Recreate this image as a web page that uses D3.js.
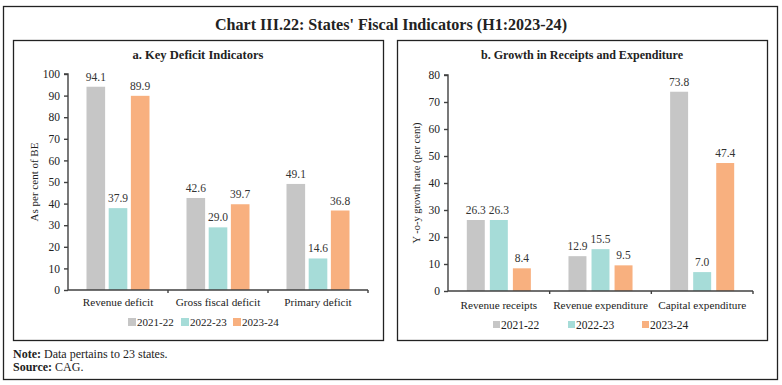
<!DOCTYPE html>
<html><head><meta charset="utf-8">
<script src="https://cdn.jsdelivr.net/npm/d3@7"></script>
<style>body{margin:0;background:#fff}svg{display:block}</style>
</head><body>
<svg id="c" width="782" height="385"></svg>
<script>
const seriesNames = ["2021-22", "2022-23", "2023-24"];
const colors = ["#c6c6c6", "#a6dcd8", "#f8b07f"];

const catsA = ["Revenue deficit", "Gross fiscal deficit", "Primary deficit"];
const valsA = {
  "2021-22": [94.1, 42.6, 49.1],
  "2022-23": [37.9, 29.0, 14.6],
  "2023-24": [89.9, 39.7, 36.8]
};
const ticksA = [0,10,20,30,40,50,60,70,80,90,100];

const catsB = ["Revenue receipts", "Revenue expenditure", "Capital expenditure"];
const valsB = {
  "2021-22": [26.3, 12.9, 73.8],
  "2022-23": [26.3, 15.5, 7.0],
  "2023-24": [8.4, 9.5, 47.4]
};
const ticksB = [0,10,20,30,40,50,60,70,80];

const svg = d3.select("#c");
const serif = "'Liberation Serif', 'DejaVu Serif', serif";
const axisCol = "#404040";

// outer frame
svg.append("rect").attr("x",3.5).attr("y",6.5).attr("width",774).attr("height",373)
  .attr("fill","none").attr("stroke","#222").attr("stroke-width",1.3);
svg.append("text").attr("x",391).attr("y",30).attr("text-anchor","middle")
  .attr("font-family",serif).attr("font-size",17.5).attr("font-weight","bold").attr("fill","#222")
  .attr("textLength",352).attr("lengthAdjust","spacingAndGlyphs")
  .text("Chart III.22: States' Fiscal Indicators (H1:2023-24)");

function panel(o){
  const g = svg.append("g");
  g.append("rect").attr("x",o.px+0.5).attr("y",40.5).attr("width",o.pw).attr("height",300)
    .attr("fill","none").attr("stroke","#222").attr("stroke-width",1.3);
  g.append("text").attr("x",o.px+o.pw/2).attr("y",58.5).attr("text-anchor","middle")
    .attr("font-family",serif).attr("font-size",13.5).attr("font-weight","bold").attr("fill","#222")
    .attr("textLength",o.titleLen).attr("lengthAdjust","spacingAndGlyphs")
    .text(o.title);

  const x0 = d3.scaleBand().domain(o.cats).range([o.x0,o.x1]).paddingInner(0.37).paddingOuter(0.185);
  const x1 = d3.scaleBand().domain(seriesNames).range([0,x0.bandwidth()]).paddingInner(o.inner);
  const y = d3.scaleLinear().domain([0,o.ymax]).range([o.y0,o.y1]);

  // bars
  seriesNames.forEach((s,si)=>{
    o.cats.forEach((c,ci)=>{
      const v = o.vals[s][ci];
      g.append("rect").attr("x",x0(c)+x1(s)).attr("y",y(v)).attr("width",x1.bandwidth())
        .attr("height",y(0)-y(v)).attr("fill",colors[si]);
      g.append("text").attr("x",x0(c)+x1(s)+x1.bandwidth()/2).attr("y",y(v)-6)
        .attr("text-anchor","middle").attr("font-family",serif).attr("font-size",11.5).attr("fill","#333")
        .text(v.toFixed(1));
    });
  });

  // y axis
  const ya = g.append("g").attr("transform",`translate(${o.x0},0)`)
    .call(d3.axisLeft(y).tickValues(o.ticks).tickSize(4).tickPadding(4).tickFormat(d3.format("d")));
  ya.selectAll("path,line").attr("stroke",axisCol).attr("stroke-width",1.4);
  ya.selectAll("path").attr("d",`M-4,${o.y1}H0V${o.y0}`);
  ya.selectAll("text").attr("font-family",serif).attr("font-size",11.5).attr("fill","#222");

  // x axis
  const xa = g.append("g").attr("transform",`translate(0,${o.y0})`);
  xa.append("line").attr("x1",o.x0).attr("x2",o.x1).attr("stroke",axisCol).attr("stroke-width",1.6);
  const bounds = [o.x0].concat(o.cats.map(c=>x0(c)+x0.bandwidth()+x0.step()*0.185));
  bounds.slice(1).forEach(b=>{
    xa.append("line").attr("x1",b).attr("x2",b).attr("y1",0).attr("y2",3).attr("stroke",axisCol).attr("stroke-width",1.4);
  });
  o.cats.forEach(c=>{
    xa.append("text").attr("x",x0(c)+x0.bandwidth()/2).attr("y",o.catY-o.y0).attr("text-anchor","middle")
      .attr("font-family",serif).attr("font-size",o.catFs).attr("fill","#222").text(c);
  });

  // y label
  g.append("text").attr("transform",`translate(${o.ylx},${(o.y0+o.y1)/2}) rotate(-90)`)
    .attr("text-anchor","middle").attr("font-family",serif).attr("font-size",o.ylFs).attr("fill","#222")
    .text(o.ylabel);

  // legend
  seriesNames.forEach((s,i)=>{
    g.append("rect").attr("x",o.legX[i]).attr("y",o.legY-8).attr("width",o.sq).attr("height",o.sq).attr("fill",colors[i]);
    g.append("text").attr("x",o.legX[i]+o.sq+1).attr("y",o.legY).attr("font-family",serif)
      .attr("font-size",o.legFs).attr("fill","#222").text(s);
  });
}

panel({px:13,pw:370,title:"a. Key Deficit Indicators",titleLen:131,cats:catsA,vals:valsA,ticks:ticksA,
  ymax:100,x0:68,x1:368,y0:290,y1:74,inner:0.16,catY:306,catFs:11.2,ylabel:"As per cent of BE",ylx:38,ylFs:11,
  legX:[128,181,233],legY:326,sq:8,legFs:11});
panel({px:397,pw:370,title:"b. Growth in Receipts and Expenditure",titleLen:202,cats:catsB,vals:valsB,ticks:ticksB,
  ymax:80,x0:448,x1:753,y0:291,y1:75,inner:0.22,catY:309,catFs:11.2,ylabel:"Y -o-y growth rate (per cent)",ylx:420,ylFs:10.5,
  legX:[493,568,642],legY:329,sq:7,legFs:11.5});

// notes
const n1 = svg.append("text").attr("x",13).attr("y",358).attr("font-family",serif).attr("font-size",12).attr("fill","#222");
n1.append("tspan").attr("font-weight","bold").text("Note:");
n1.append("tspan").text(" Data pertains to 23 states.");
const n2 = svg.append("text").attr("x",13).attr("y",371).attr("font-family",serif).attr("font-size",12).attr("fill","#222");
n2.append("tspan").attr("font-weight","bold").text("Source:");
n2.append("tspan").text(" CAG.");
</script>
</body></html>
